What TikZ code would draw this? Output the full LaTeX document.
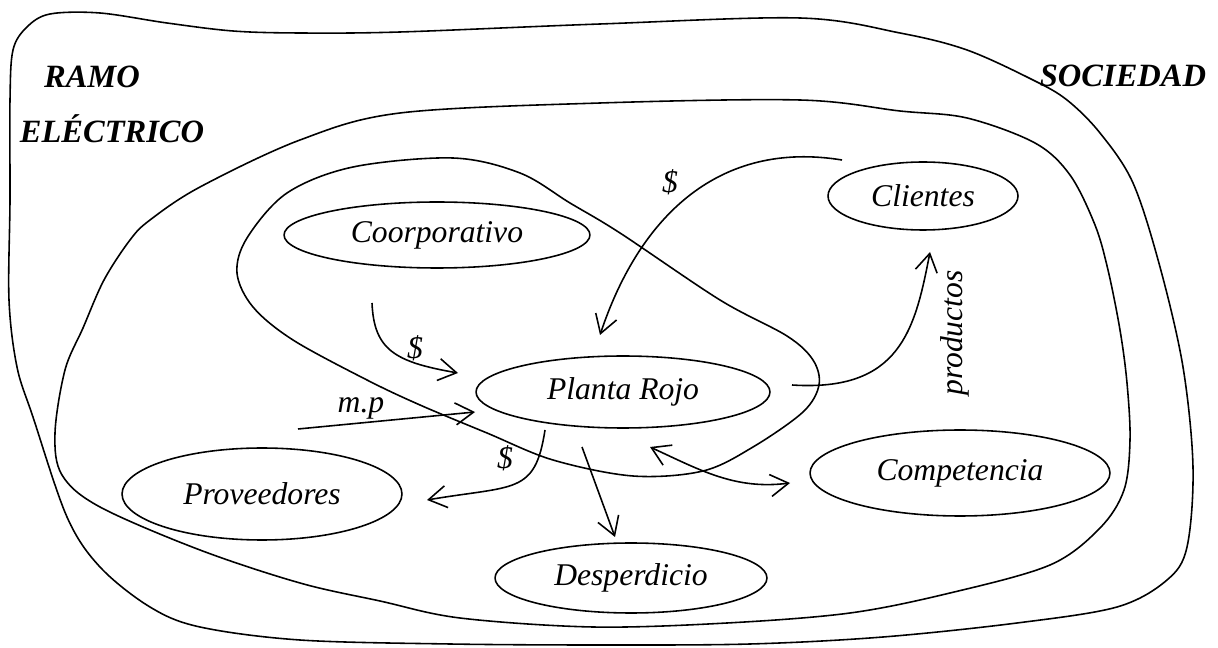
\documentclass[tikz,border=0pt]{standalone}
\usepackage{fontspec}
\setmainfont{Liberation Serif}
\usetikzlibrary{shapes.geometric,arrows.meta}
\begin{document}
\begin{tikzpicture}[x=0.02cm,y=-0.02cm,line width=0.9pt,line join=round,
  oval/.style={draw,ellipse,inner sep=0pt,font=\fontsize{18}{20}\selectfont\itshape},
  lbl/.style={font=\fontsize{18}{20}\selectfont\itshape,inner sep=0pt},
  ttl/.style={font=\fontsize{18.5}{21}\selectfont\bfseries\itshape,inner sep=0pt,anchor=base},
  barb/.style={Straight Barb[length=3.6mm,width=4.4mm]},
  flow/.style={-{Straight Barb[length=3.6mm,width=4.4mm]}},
  twoway/.style={{Straight Barb[length=3.6mm,width=4.4mm]}-{Straight Barb[length=3.6mm,width=4.4mm]}}
]
\useasboundingbox (0,0) rectangle (1218,648);

% outer boundary (RAMO ELECTRICO)
\draw plot[smooth cycle,tension=0.55] coordinates {
(13,50) (27,27) (50,14) (100,13) (167,23) (233,31) (300,33) (400,32) (600,24) (800,18)
(900,33) (967,50) (1033,80) (1067,100) (1100,133) (1133,183) (1160,267) (1183,367)
(1193,467) (1187,547) (1167,580) (1117,607) (1017,623) (883,637) (750,644) (600,645)
(450,644) (300,640) (200,627) (150,607) (100,567) (67,517) (33,417) (17,367) (9,300)
(10,200) (10,100)};

% middle boundary (SOCIEDAD)
\draw plot[smooth cycle,tension=0.55] coordinates {
(150,220) (200,187) (300,140) (400,113) (600,103) (800,100) (900,111) (967,118)
(1035,143) (1070,175) (1095,225) (1108,270) (1120,330) (1127,383) (1130,440) (1124,490)
(1100,528) (1050,565) (950,593) (850,613) (727,623) (593,627) (460,618) (380,601)
(300,583) (200,550) (100,507) (62,475) (55,433) (65,370) (83,328) (104,280) (130,240)};

% inner boundary (planta)
\draw plot[smooth cycle,tension=0.55] coordinates {
(453,158) (520,173) (570,203) (620,233) (720,300) (787,336) (813,360) (819,385)
(803,412) (753,447) (703,471) (633,476) (553,460) (487,433) (420,405) (367,380)
(293,340) (253,307) (237,273) (247,238) (287,193) (353,167)};

% titles
\node[ttl] (ramo) at (92,88) {RAMO};
\node[ttl] (electrico) at (112,143) {ELÉCTRICO};
\node[ttl] (sociedad) at (1123,87) {SOCIEDAD};

% ellipses
\node[oval,minimum width=6.12cm,minimum height=1.32cm] (coorp) at (437,235) {Coorporativo};
\node[oval,minimum width=5.88cm,minimum height=1.44cm] (planta) at (623,392) {Planta Rojo};
\node[oval,minimum width=3.8cm,minimum height=1.36cm] (clientes) at (923,196) {Clientes};
\node[oval,minimum width=5.6cm,minimum height=1.84cm] (prov) at (262,494) {Proveedores};
\node[oval,minimum width=6.0cm,minimum height=1.72cm] (comp) at (960,473) {Competencia};
\node[oval,minimum width=5.44cm,minimum height=1.4cm] (desp) at (631,578) {Desperdicio};

% connector end points
\coordinate (c1s) at (372,303);
\coordinate (c1e) at (458,373);
\coordinate (mps) at (298,429);
\coordinate (mpe) at (475,412);
\coordinate (cls) at (842,160);
\coordinate (cle) at (600,335);
\coordinate (prs) at (792,385);
\coordinate (pre) at (930,252);
\coordinate (pvs) at (545,430);
\coordinate (pve) at (427,500);
\coordinate (dss) at (582,447);
\coordinate (dse) at (615,537);
\coordinate (cps) at (650,447);
\coordinate (cpe) at (790,483);

% connectors
\draw[flow] (c1s) .. controls (374,350) and (395,362) .. (c1e);
\draw[flow] (mps) -- (mpe);
\draw[flow] (cls) .. controls (720,140) and (640,215) .. (cle);
\draw[flow] (prs) .. controls (900,392) and (915,330) .. (pre);
\draw[flow] (pvs) .. controls (535,495) and (515,485) .. (pve);
\draw[flow] (dss) -- (dse);
\draw[twoway] (cps) .. controls (700,470) and (735,490) .. (cpe);

% labels
\node[lbl] (d1) at (415,348) {\$};
\node[lbl,anchor=base] (mp) at (361,413) {m.p};
\node[lbl] (d2) at (670,182) {\$};
\node[lbl,rotate=90] (prod) at (955,333) {productos};
\node[lbl] (d3) at (505,458) {\$};
\end{tikzpicture}
\end{document}
